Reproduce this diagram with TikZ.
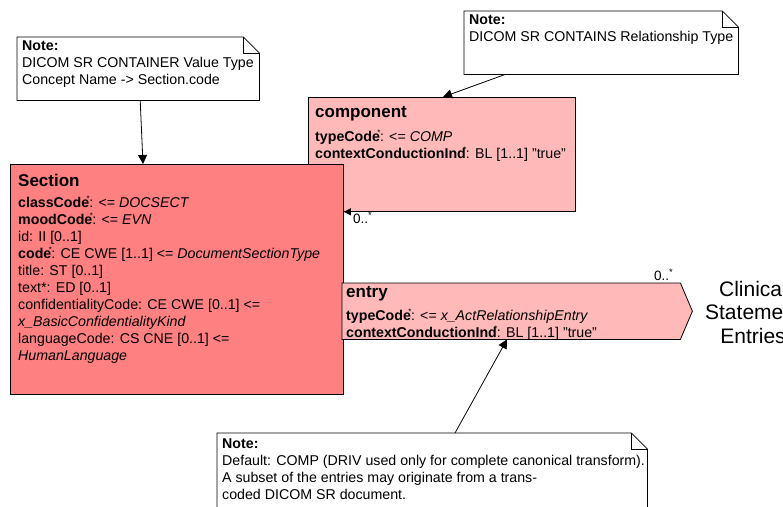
\documentclass[tikz,border=0pt]{standalone}
\usepackage{fontspec}
\setmainfont{Liberation Sans}
\usetikzlibrary{arrows.meta}
\usetikzlibrary{calc}

\definecolor{sectionred}{RGB}{255,128,128}
\definecolor{actpink}{RGB}{255,185,185}

\newcommand{\reqmark}{\kern-2.5pt\raisebox{0.38em}{\fontsize{8}{8}\selectfont *}\kern-0.5pt}

\tikzset{
  txt/.style={inner sep=0pt, align=left, font=\fontsize{14.2}{17}\selectfont},
  ttl/.style={inner sep=0pt, font=\fontsize{17}{20}\selectfont\bfseries},
  boxframe/.style={inner sep=0pt, anchor=north west},
  conn/.style={line width=0.8pt, -{Triangle[length=9pt,width=9pt]}},
  mult/.style={inner sep=0pt, anchor=west, font=\fontsize{13.5}{15}\selectfont},
}

\begin{document}
\begin{tikzpicture}[x=1pt,y=1pt,yscale=-1,xscale=1]
\useasboundingbox (0,0) rectangle (783,506);

%Shape: Note (left)
\node[boxframe, minimum width=242pt, minimum height=63pt] (notesec) at (17,37) {};
\draw [line width=0.8pt, fill=white] (notesec.north west) -- ($(notesec.north east)+(-16,0)$) -- ($(notesec.north east)+(0,16)$) -- (notesec.south east) -- (notesec.south west) -- cycle ;
\draw [line width=0.8pt] ($(notesec.north east)+(-16,0)$) -- ($(notesec.north east)+(-16,16)$) -- ($(notesec.north east)+(0,16)$) ;

%Shape: Note (top)
\node[boxframe, minimum width=274pt, minimum height=63pt] (noterel) at (464,11) {};
\draw [line width=0.8pt, fill=white] (noterel.north west) -- ($(noterel.north east)+(-16,0)$) -- ($(noterel.north east)+(0,16)$) -- (noterel.south east) -- (noterel.south west) -- cycle ;
\draw [line width=0.8pt] ($(noterel.north east)+(-16,0)$) -- ($(noterel.north east)+(-16,16)$) -- ($(noterel.north east)+(0,16)$) ;

%Shape: Note (bottom)
\node[boxframe, minimum width=430pt, minimum height=80pt] (noteentry) at (217,433) {};
\draw [line width=0.8pt, fill=white] (noteentry.north west) -- ($(noteentry.north east)+(-16,0)$) -- ($(noteentry.north east)+(0,16)$) -- (noteentry.south east) -- (noteentry.south west) -- cycle ;
\draw [line width=0.8pt] ($(noteentry.north east)+(-16,0)$) -- ($(noteentry.north east)+(-16,16)$) -- ($(noteentry.north east)+(0,16)$) ;

%Shape: Rectangle (component)
\node[boxframe, draw, line width=0.8pt, fill=actpink, minimum width=267pt, minimum height=114pt] (component) at (308,97) {};

%Shape: Rectangle (Section)
\node[boxframe, draw, line width=0.8pt, fill=sectionred, minimum width=333pt, minimum height=230pt] (section) at (10,164) {};

%Shape: Arrow box (entry)
\node[boxframe, minimum width=338pt, minimum height=56pt] (entry) at (342,283) {};
\draw [line width=0.8pt, fill=actpink] (entry.north west) -- (entry.north east) -- ($(entry.east)+(12,0)$) -- (entry.south east) -- (entry.south west) -- cycle ;

%Straight Lines
\draw [conn] ($(notesec.south)+(2,0)$) -- ($(section.north west)+(133,0)$) ;
\draw [conn] ($(noterel.south)+(-96,0)$) -- ($(component.north west)+(135,0)$) ;
\draw [conn, -{Triangle[length=7pt,width=7pt]}] (component.south) -- (section.east |- component.south) ;
\draw [conn] ($(noteentry.north west)+(238,0)$) -- ($(entry.south west)+(165,0)$) ;

% Text Node
\node[txt, anchor=north west] (notesectext) at (22,41) {\textbf{Note:}\\DICOM SR CONTAINER Value Type\\Concept Name -> Section.code};
% Text Node
\node[txt, anchor=north west] (notereltext) at (469,15) {\textbf{Note:}\\DICOM SR CONTAINS Relationship Type};
% Text Node
\node[txt, anchor=north west] (noteentrytext) at (222,439) {\textbf{Note:}\\Default: COMP (DRIV used only for complete canonical transform).\\A subset of the entries may originate from a trans-\\coded DICOM SR document.};

% Text Node
\node[ttl, anchor=base west] (comptitle) at (315,117) {component};
% Text Node
\node[txt, anchor=north west] (compattr) at (315,130) {\textbf{typeCode}\reqmark: <= \textit{COMP}\\\textbf{contextConductionInd}\reqmark: BL [1..1] "true"};

% Text Node
\node[ttl, anchor=base west] (sectitle) at (18,186) {Section};
% Text Node
\node[txt, anchor=north west] (secattr) at (18,196) {\textbf{classCode}\reqmark: <= \textit{DOCSECT}\\
\textbf{moodCode}\reqmark: <= \textit{EVN}\\
id: II [0..1]\\
\textbf{code}\reqmark: CE CWE [1..1] <= \textit{DocumentSectionType}\\
title: ST [0..1]\\
text*: ED [0..1]\\
confidentialityCode: CE CWE [0..1] <=\\
\textit{x\_BasicConfidentialityKind}\\
languageCode: CS CNE [0..1] <=\\
\textit{HumanLanguage}};

% Text Node
\node[ttl, anchor=base west] (entrytitle) at (346,297) {entry};
% Text Node
\node[txt, anchor=north west] (entryattr) at (346,309) {\textbf{typeCode}\reqmark: <= \textit{x\_ActRelationshipEntry}\\\textbf{contextConductionInd}\reqmark: BL [1..1] "true"};

% Text Node
\node[mult] (compmult) at (353,218) {0..\textsuperscript{*}};
% Text Node
\node[mult] (entrymult) at (654,275) {0..\textsuperscript{*}};
% Text Node
\node[inner sep=0pt, align=center, font=\fontsize{21}{23.5}\selectfont] (clinical) at (753,312) {Clinical\\Statement\\Entries};

\end{tikzpicture}
\end{document}
